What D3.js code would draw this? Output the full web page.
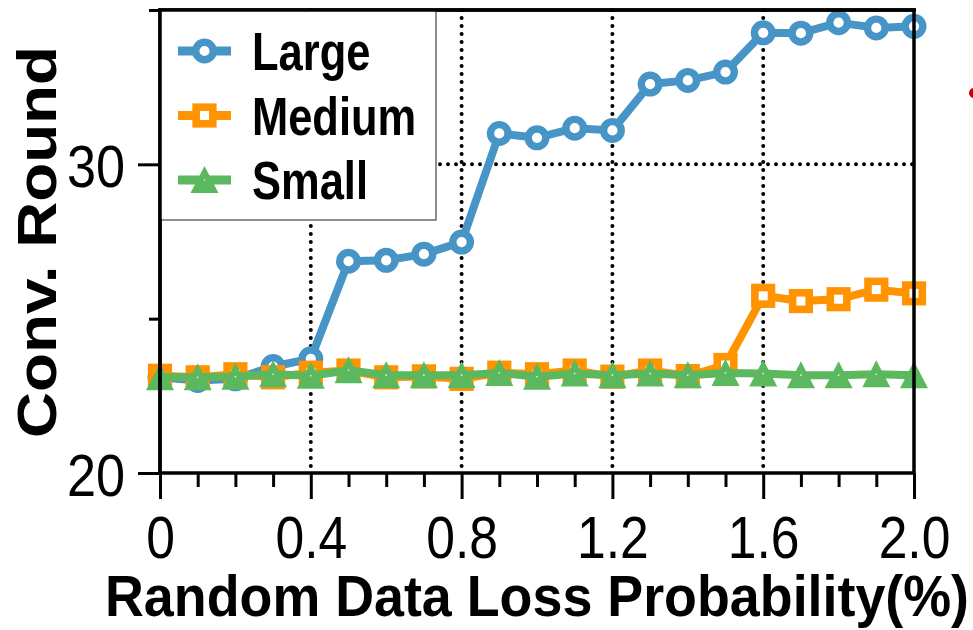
<!DOCTYPE html>
<html>
<head>
<style>
  body { margin: 0; background: #fff; }
  svg { display: block; font-family: "Liberation Sans", Arial, sans-serif; }
  .grid line { stroke: #000; stroke-width: 4; stroke-dasharray: 0 8; stroke-linecap: round; }
  .axis line { stroke: #000; stroke-width: 3; }
  .axis path { display: none; }
</style>
</head>
<body>
<svg id="chart" width="973" height="630"></svg>
<script src="https://cdn.jsdelivr.net/npm/d3@7"></script>
<script>
// loss probability (%) on x, convergence round on y
var lossProb = [0, 0.1, 0.2, 0.3, 0.4, 0.5, 0.6, 0.7, 0.8, 0.9, 1.0,
                1.1, 1.2, 1.3, 1.4, 1.5, 1.6, 1.7, 1.8, 1.9, 2.0];
var largeRounds = [23.1, 23.0, 23.05, 23.45, 23.7, 26.86, 26.89, 27.09, 27.48, 31.0, 30.86,
                   31.17, 31.1, 32.6, 32.72, 32.99, 34.26, 34.25, 34.59, 34.42, 34.47];
var mediumRounds = [23.15, 23.1, 23.2, 23.1, 23.25, 23.32, 23.1, 23.13, 23.05, 23.25, 23.2,
                    23.32, 23.12, 23.32, 23.14, 23.5, 25.74, 25.57, 25.63, 25.94, 25.82];
var smallRounds = [23.1, 23.1, 23.12, 23.2, 23.15, 23.33, 23.17, 23.17, 23.17, 23.24, 23.12,
                   23.22, 23.17, 23.22, 23.17, 23.24, 23.22, 23.17, 23.17, 23.2, 23.17];
var seriesNames = ["Large", "Medium", "Small"];
var seriesColors = ["#4794c6", "#ff9300", "#5cb85e"];
var seriesMarkers = ["circle", "square", "triangle"];

var xTicks = [0, 0.4, 0.8, 1.2, 1.6, 2.0];
var xTickLabels = ["0", "0.4", "0.8", "1.2", "1.6", "2.0"];
var xMinorTicks = [0.1, 0.2, 0.3, 0.5, 0.6, 0.7, 0.9, 1.0, 1.1, 1.3, 1.4, 1.5, 1.7, 1.8, 1.9];
var xGrid = [0.4, 0.8, 1.2, 1.6];
var yTicks = [20, 30];
var yMinorTicks = [25, 35];
var yGrid = [30];

var svg = d3.select("#chart");
var margin = {top: 10, right: 59, bottom: 157, left: 160};
var width = 973 - margin.left - margin.right,
    height = 630 - margin.top - margin.bottom;

var x = d3.scaleLinear().domain([0, 2]).range([0, width]);
var y = d3.scaleLinear().domain([20, 35]).range([height, 0]);

// squeeze text horizontally to mimic a narrow face
function narrow(sel, ratio) {
    sel.each(function() {
        var w = this.getComputedTextLength();
        d3.select(this).attr("textLength", w * ratio).attr("lengthAdjust", "spacingAndGlyphs");
    });
}

var g = svg.append("g")
    .attr("transform", "translate(" + margin.left + "," + margin.top + ")");

// dotted grid
var grid = g.append("g").attr("class", "grid");
grid.selectAll("line.v").data(xGrid).enter().append("line")
    .attr("x1", function(d) { return x(d); }).attr("x2", function(d) { return x(d); })
    .attr("y1", 0).attr("y2", height);
grid.selectAll("line.h").data(yGrid).enter().append("line")
    .attr("x1", 0).attr("x2", width)
    .attr("y1", function(d) { return y(d); }).attr("y2", function(d) { return y(d); });

// axes
g.append("g").attr("class", "axis")
    .attr("transform", "translate(0," + height + ")")
    .call(d3.axisBottom(x).tickValues(xMinorTicks).tickSize(14).tickFormat(""));
var xAxis = g.append("g").attr("class", "axis")
    .attr("transform", "translate(0," + height + ")")
    .call(d3.axisBottom(x).tickValues(xTicks).tickSize(26).tickPadding(16)
        .tickFormat(function(d, i) { return xTickLabels[i]; }));
xAxis.selectAll("text").attr("font-size", 60).attr("fill", "#000")
    .attr("font-family", null).call(narrow, 0.86);

g.append("g").attr("class", "axis")
    .call(d3.axisLeft(y).tickValues(yMinorTicks).tickSize(11).tickFormat(""));
var yAxis = g.append("g").attr("class", "axis")
    .call(d3.axisLeft(y).tickValues(yTicks).tickSize(22).tickPadding(13));
yAxis.selectAll("text").attr("font-size", 60).attr("fill", "#000")
    .attr("font-family", null).attr("dy", "0.37em").call(narrow, 0.87);

// series
var series = seriesNames.map(function(name, i) {
    var vals = [largeRounds, mediumRounds, smallRounds][i];
    return {
        name: name, color: seriesColors[i], marker: seriesMarkers[i],
        points: lossProb.map(function(p, j) { return {x: p, y: vals[j]}; })
    };
});

var line = d3.line().x(function(d) { return x(d.x); }).y(function(d) { return y(d.y); });

function drawMarker(sel, kind, color) {
    if (kind === "circle") {
        sel.append("circle").attr("r", 8.8)
            .attr("fill", "#fff").attr("stroke", color).attr("stroke-width", 7.4);
    } else if (kind === "square") {
        sel.append("rect").attr("x", -8.3).attr("y", -8.3).attr("width", 16.6).attr("height", 16.6)
            .attr("fill", "#fff").attr("stroke", color).attr("stroke-width", 7.6);
    } else {
        sel.append("path").attr("d", "M0,-14L14,13L-14,13Z").attr("fill", color);
        sel.append("circle").attr("r", 0.8).attr("fill", "#fff");
    }
}

series.forEach(function(s) {
    var sg = g.append("g");
    sg.append("path").datum(s.points)
        .attr("fill", "none").attr("stroke", s.color).attr("stroke-width", 8)
        .attr("stroke-linejoin", "round").attr("d", line);
    sg.selectAll("g.pt").data(s.points).enter().append("g")
        .attr("transform", function(d) { return "translate(" + x(d.x) + "," + y(d.y) + ")"; })
        .each(function() { drawMarker(d3.select(this), s.marker, s.color); });
});

// frame
g.append("rect").attr("width", width).attr("height", height)
    .attr("fill", "none").attr("stroke", "#000").attr("stroke-width", 3.5);

// legend
var legend = g.append("g");
legend.append("rect").attr("x", 0).attr("y", 0).attr("width", 276).attr("height", 210)
    .attr("fill", "#fff").attr("stroke", "#444").attr("stroke-width", 1.2);
series.forEach(function(s, i) {
    var ly = 41 + i * 64.5;
    var row = legend.append("g").attr("transform", "translate(0," + ly + ")");
    row.append("line").attr("x1", 18).attr("x2", 71).attr("y1", 0).attr("y2", 0)
        .attr("stroke", s.color).attr("stroke-width", 9);
    drawMarker(row.append("g").attr("transform", "translate(44.5,0)"), s.marker, s.color);
    row.append("text").attr("x", 92).attr("y", 19)
        .attr("font-size", 53).attr("font-weight", "bold").text(s.name)
        .call(narrow, 0.82);
});
// re-draw the frame edges that sit over the legend box
g.append("line").attr("x1", 0).attr("x2", 0).attr("y1", 0).attr("y2", height)
    .attr("stroke", "#000").attr("stroke-width", 3.5);
g.append("line").attr("x1", -2).attr("x2", width + 2).attr("y1", 0).attr("y2", 0)
    .attr("stroke", "#000").attr("stroke-width", 3.5);

// axis titles
svg.append("text")
    .attr("x", 537).attr("y", 616).attr("text-anchor", "middle")
    .attr("font-size", 58).attr("font-weight", "bold")
    .attr("textLength", 864).attr("lengthAdjust", "spacingAndGlyphs")
    .text("Random Data Loss Probability(%)");
svg.append("text")
    .attr("transform", "translate(56,242) rotate(-90)")
    .attr("text-anchor", "middle")
    .attr("font-size", 56).attr("font-weight", "bold")
    .attr("textLength", 392).attr("lengthAdjust", "spacingAndGlyphs")
    .text("Conv. Round");

// stray red mark at the right edge
svg.append("circle").attr("cx", 974).attr("cy", 93).attr("r", 5).attr("fill", "#cc0000");
</script>
</body>
</html>
